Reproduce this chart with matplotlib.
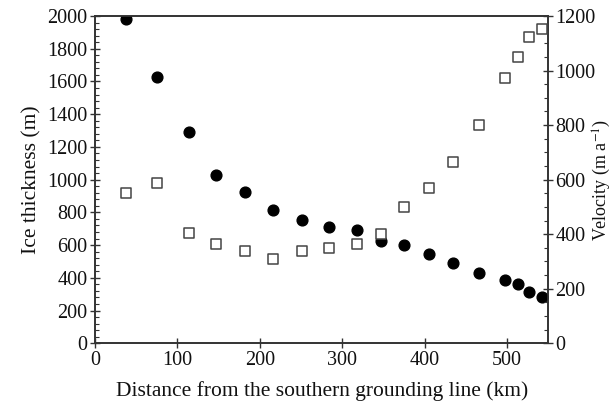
import matplotlib
matplotlib.use("Agg")
import matplotlib.pyplot as plt
from matplotlib.ticker import MultipleLocator

distance = [38, 75, 114, 147, 182, 216, 251, 284, 318, 347, 375, 405, 434, 466, 497, 513, 527, 542]
thickness = [1980, 1630, 1290, 1030, 925, 814, 753, 712, 692, 627, 600, 545, 489, 428, 387, 362, 315, 285]
velocity = [550, 589, 404, 363, 340, 310, 340, 348, 363, 401, 498, 569, 664, 800, 972, 1051, 1123, 1153]

plt.rcParams['font.family'] = ['Liberation Serif', 'DejaVu Serif']
plt.rcParams['font.size'] = 14.5
plt.rcParams['mathtext.fontset'] = 'stix'

fig = plt.figure(figsize=(6.14, 4.07), dpi=100)
ax = fig.add_axes([0.1547, 0.1565, 0.893 - 0.1547, 0.9607 - 0.1565])
ax2 = ax.twinx()

ax.scatter(distance, thickness, s=60, color='black', zorder=3)
ax2.scatter(distance, velocity, s=55, marker='s', facecolors='white', edgecolors='#444444', linewidths=1.1, zorder=3)

ax.set_xlim(0, 550)
ax.set_ylim(0, 2000)
ax2.set_ylim(0, 1200)
ax.set_xticks([0, 100, 200, 300, 400, 500])
ax.set_yticks(range(0, 2001, 200))
ax2.set_yticks(range(0, 1201, 200))
ax.yaxis.set_minor_locator(MultipleLocator(40))
ax2.yaxis.set_minor_locator(MultipleLocator(50))

for a in (ax, ax2):
    for s in a.spines.values():
        s.set_color('#333333')
        s.set_linewidth(1.2)

ax.tick_params(axis='y', which='major', direction='inout', length=7, width=1, colors='#333333', labelcolor='#111111', pad=2)
ax.tick_params(axis='y', which='minor', direction='in', length=3, width=0.8, colors='#333333')
ax.tick_params(axis='x', which='major', direction='inout', length=7, width=1, colors='#333333', labelcolor='#111111', pad=2)
ax2.tick_params(axis='y', which='major', direction='inout', length=7, width=1, colors='#333333', labelcolor='#111111', pad=1.5)
ax2.tick_params(axis='y', which='minor', direction='in', length=3, width=0.8, colors='#333333')

ax.set_xlabel('Distance from the southern grounding line (km)', color='#111111', fontsize=15.5, labelpad=8)
ax.set_ylabel('Ice thickness (m)', color='#111111', fontsize=15.5, labelpad=4)
ax2.set_ylabel('Velocity (m a$^{-1}$)', color='#111111', fontsize=13)
ax2.yaxis.set_label_coords(1.094, 0.5)

fig.savefig('out.png', dpi=100)
